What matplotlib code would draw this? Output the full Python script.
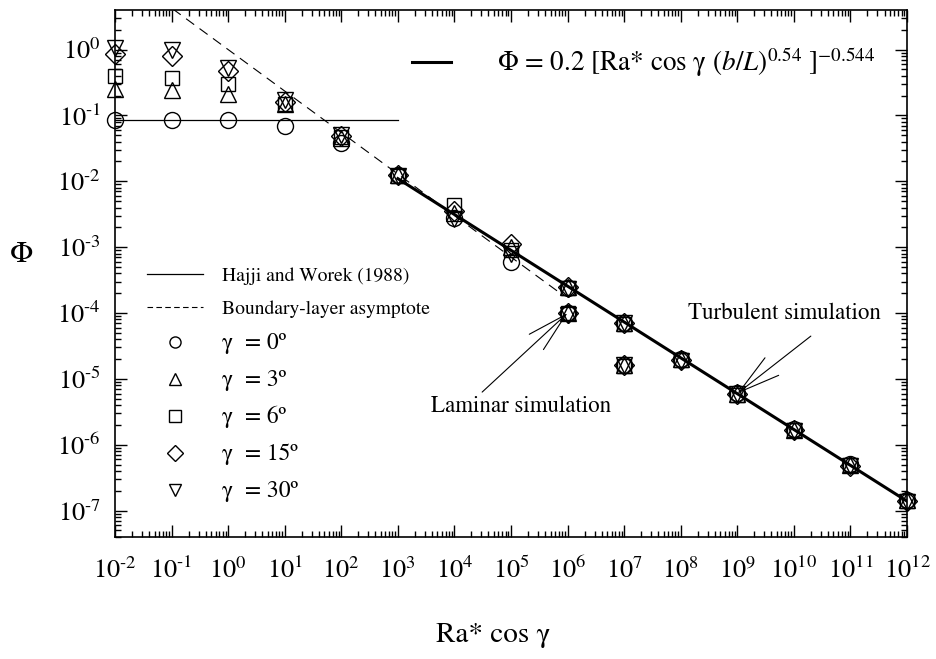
import matplotlib
matplotlib.use('Agg')
import matplotlib.pyplot as plt
import numpy as np
from matplotlib.lines import Line2D
from matplotlib.ticker import LogLocator, FuncFormatter, NullFormatter

plt.rcParams['font.family'] = ['STIXGeneral', 'DejaVu Serif']
plt.rcParams['mathtext.fontset'] = 'stix'

# simulation points, Ra* cos(gamma) on x
ra = [1e-2, 1e-1, 1e0, 1e1, 1e2, 1e3, 1e4, 1e5, 1e6, 1e6, 1e7, 1e7,
      1e8, 1e9, 1e10, 1e11, 1e12]
phi_g0 = [0.086, 0.086, 0.085, 0.070, 0.038, 0.0125, 2.8e-3, 6.0e-4, 2.4e-4, 1.0e-4,
          7.0e-5, 1.6e-5, 2.0e-5, 6.2e-6, 1.75e-6, 5.1e-7, 1.45e-7]
phi_g3 = [0.25, 0.24, 0.21, 0.15, 0.046, 0.0125, 3.3e-3, 1.0e-3, 2.5e-4, 1.0e-4,
          7.0e-5, 1.6e-5, 2.0e-5, 6.0e-6, 1.7e-6, 5.0e-7, 1.45e-7]
phi_g6 = [0.40, 0.37, 0.30, 0.15, 0.047, 0.012, 4.3e-3, 9.0e-4, 2.4e-4, 1.0e-4,
          6.8e-5, 1.55e-5, 1.95e-5, 5.8e-6, 1.7e-6, 5.0e-7, 1.4e-7]
phi_g15 = [0.85, 0.80, 0.48, 0.16, 0.048, 0.0125, 3.6e-3, 1.1e-3, 2.5e-4, 1.0e-4,
           7.0e-5, 1.6e-5, 1.95e-5, 6.0e-6, 1.65e-6, 4.8e-7, 1.4e-7]
phi_g30 = [1.05, 1.0, 0.52, 0.17, 0.05, 0.012, 2.7e-3, 8.0e-4, 2.3e-4, 0.95e-4,
           7.0e-5, 1.6e-5, 1.9e-5, 6.0e-6, 1.6e-6, 4.7e-7, 1.35e-7]

series = [
    (phi_g0, 'o', 'γ  = 0º'),
    (phi_g3, '^', 'γ  = 3º'),
    (phi_g6, 's', 'γ  = 6º'),
    (phi_g15, 'D', 'γ  = 15º'),
    (phi_g30, 'v', 'γ  = 30º'),
]

# decades shown on each axis
x_decades = list(range(-2, 13))
y_decades = list(range(-7, 1))

# correlations
hajji_range = [1e-2, 1e3]
hajji_phi = 0.085
asym_coef, asym_exp = 1.0, -0.63
asym_range = [1e-2, 8e5]
fit_coef, fit_exp = 0.47, -0.544
fit_range = [1e3, 1e12]

fig = plt.figure(figsize=(9.37, 6.59), dpi=100)
ax = fig.add_axes([0.1227, 0.1851, 0.8453, 0.7997])

ax.plot(hajji_range, [hajji_phi, hajji_phi], color='k', lw=0.9)
xa = np.logspace(np.log10(asym_range[0]), np.log10(asym_range[1]), 50)
ax.plot(xa, asym_coef * xa ** asym_exp, color='k', lw=0.8, ls=(0, (9, 6)))
xf = np.logspace(np.log10(fit_range[0]), np.log10(fit_range[1]), 50)
ax.plot(xf, fit_coef * xf ** fit_exp, color='k', lw=2.2)

for vals, mk, lab in series:
    ms = 10 if mk in ('s', 'D') else 11.5
    ax.plot(ra, vals, ls='none', marker=mk, ms=ms, mfc='none', mec='k', mew=1.0,
            clip_on=False)

ax.set_xscale('log')
ax.set_yscale('log')
ax.set_xlim(1e-2, 1e12)
ax.set_ylim(10 ** -7.4, 10 ** 0.6)

ax.set_xticks([10.0 ** e for e in x_decades])
ax.set_yticks([10.0 ** e for e in y_decades])
ax.xaxis.set_minor_locator(LogLocator(base=10, subs=np.arange(2, 10), numticks=30))
ax.yaxis.set_minor_locator(LogLocator(base=10, subs=np.arange(2, 10), numticks=30))


def dec_label(v, pos):
    e = int(round(np.log10(v)))
    if e < 0:
        return r'$10^{\text{-}%d}$' % (-e)
    return r'$10^{%d}$' % e


fmt = FuncFormatter(dec_label)
ax.xaxis.set_major_formatter(fmt)
ax.yaxis.set_major_formatter(fmt)
ax.xaxis.set_minor_formatter(NullFormatter())
ax.yaxis.set_minor_formatter(NullFormatter())

ax.tick_params(which='both', direction='in', top=True, right=True, width=1)
ax.tick_params(which='major', length=8.5, labelsize=19)
ax.tick_params(which='minor', length=4.5)
ax.tick_params(axis='x', pad=15)
ax.tick_params(axis='y', pad=10)
for s in ax.spines.values():
    s.set_linewidth(1.2)

ax.set_xlabel('Ra* cos γ', fontsize=21, labelpad=28)
ax.xaxis.label.set_x(0.478)
ax.set_ylabel('Φ', fontsize=22, rotation=0, labelpad=26, va='center')
ax.yaxis.label.set_y(0.535)

# annotations
ax.text(10 ** 5.17, 10 ** -5.41, 'Laminar simulation', fontsize=16.5, ha='center', va='center')
ax.annotate('', xy=(1e6, 1e-4), xytext=(10 ** 4.49, 10 ** -5.20),
            arrowprops=dict(arrowstyle='->, head_length=2.9, head_width=0.75',
                            mutation_scale=10, lw=0.8, color='k', shrinkA=0, shrinkB=0))
ax.text(10 ** 9.84, 10 ** -4.0, 'Turbulent simulation', fontsize=16.5, ha='center', va='center')
ax.annotate('', xy=(1e9, 6e-6), xytext=(10 ** 10.30, 10 ** -4.35),
            arrowprops=dict(arrowstyle='->, head_length=3.0, head_width=0.8',
                            mutation_scale=10, lw=0.8, color='k', shrinkA=0, shrinkB=0))

# legends
h1 = [Line2D([], [], color='k', lw=0.9),
      Line2D([], [], color='k', lw=0.8, ls=(0, (5, 3)))]
l1 = ['Hajji and Worek (1988)', 'Boundary-layer asymptote']
for vals, mk, lab in series:
    h1.append(Line2D([], [], ls='none', marker=mk, ms=8, mfc='none', mec='k', mew=1.0))
    l1.append(lab)
leg1 = ax.legend(h1, l1, loc='upper left', bbox_to_anchor=(0.040, 0.512),
                 frameon=False, fontsize=14, handlelength=2.9, handletextpad=1.0,
                 labelspacing=0.78, borderpad=0, borderaxespad=0)
for t in leg1.get_texts()[2:]:
    t.set_fontsize(17)
ax.add_artist(leg1)
ax.legend([Line2D([], [], color='k', lw=2.2)],
          [r'Φ = 0.2 [Ra* cos γ ($b$/$L$)$^{0.54}$ ]$^{-0.544}$'],
          loc='center left', bbox_to_anchor=(0.375, 0.901), frameon=False,
          fontsize=19.5, handlelength=1.45, handletextpad=1.7, borderpad=0, borderaxespad=0)

fig.savefig('out.png', dpi=100)
